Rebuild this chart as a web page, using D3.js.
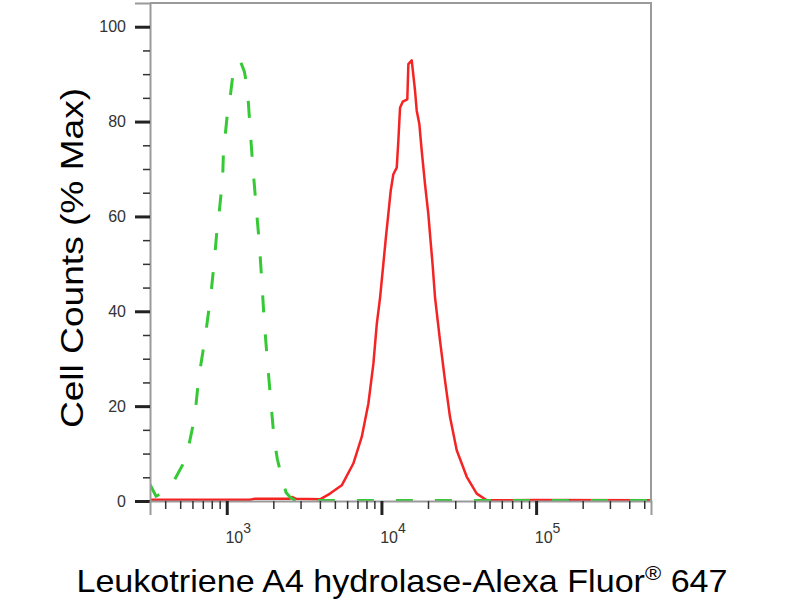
<!DOCTYPE html>
<html>
<head>
<meta charset="utf-8">
<script src="https://cdn.jsdelivr.net/npm/d3@7"></script>
<style>
  body { margin: 0; background: #fff; }
  text { font-family: Arial, "Liberation Sans", sans-serif; }
</style>
</head>
<body>
<div id="chart"></div>
<script>
// isotype control (green, dashed)
var greenX = [319, 349, 382, 450, 524, 565, 603, 630, 649, 672, 706, 735, 768, 792, 819, 840, 862, 892, 919, 942, 951, 975,
  1009, 1050, 1093, 1219, 1300, 1359, 1415, 1472, 1547, 1624, 1684, 1750, 1830, 1925, 2022, 2124, 2268, 2417, 2566, 2764,
  3200, 5000, 10000, 30000, 100000, 553000];
var greenY = [3.5, 1.0, 1.7, 3.9, 7.9, 11.3, 15.7, 19.7, 23.9, 27.7, 32.1, 35.9, 40.6, 43.9, 48.6, 52.4, 56.6, 60.6, 64.8, 68.6, 73.2, 76.8,
  81.6, 84.9, 89.6, 92.9, 90.5, 87.1, 78.7, 70.7, 62.3, 54.3, 46.5, 37.6, 29.6, 21.2, 13.2, 8.8, 5.0, 1.8, 0.8, 0.1,
  0.1, 0.1, 0.1, 0.1, 0.1, 0.1];

// Leukotriene A4 hydrolase stained (red)
var redX = [319, 1415, 1524, 2564, 2642, 2805, 4010, 4653, 5540, 6580, 7460, 8230, 8870, 9330, 9800, 10290, 10710, 11080, 11480,
  11940, 12560, 12860, 13190, 13730, 14700, 14930, 15700, 16490, 16910, 17580, 18220, 19130, 20100, 20770, 21400, 22210,
  23920, 25770, 27760, 30670, 35600, 41300, 47950, 100000, 553000];
var redY = [0.25, 0.25, 0.5, 0.5, 0.85, 0.45, 0.35, 1.56, 3.3, 7.9, 13.5, 20.5, 28.9, 37.3, 42.9, 50.0, 55.9, 60.5, 65.4,
  68.9, 70.3, 75.9, 82.9, 84.2, 84.7, 92.1, 92.9, 86.5, 82.3, 79.5, 73.8, 66.8, 60.5, 54.9, 50.0, 42.9,
  33.8, 25.4, 17.7, 10.7, 5.1, 1.56, 0.15, 0.2, 0.15];

var yTicks = [0, 20, 40, 60, 80, 100];
var xMajor = [1e3, 1e4, 1e5];
var xTitle = "Leukotriene A4 hydrolase-Alexa Fluor";
var yTitle = "Cell Counts (% Max)";

var width = 800, height = 600;
var pLeft = 150, pRight = 651, pTop = 3, pBottom = 501;

var svg = d3.select("#chart").append("svg")
  .attr("width", width)
  .attr("height", height);

var x = d3.scaleLog().domain([319, 553000]).range([pLeft, pRight]);
var y = d3.scaleLinear().domain([0, 105]).range([pBottom, pTop]);

// minor ticks: 2..9 of every decade inside the domain
var xMinor = [];
[100, 1000, 10000, 100000].forEach(function(dec) {
  for (var k = 2; k <= 9; k++) {
    var v = dec * k;
    if (v > x.domain()[0] && v < x.domain()[1]) xMinor.push(v);
  }
});
var yMinor = d3.range(0, 105, 5).filter(function(v) { return v % 20 != 0; });

svg.append("clipPath").attr("id", "clip")
  .append("rect").attr("x", pLeft).attr("y", pTop).attr("width", pRight - pLeft).attr("height", pBottom - pTop + 2);

// curves
var line = d3.line()
  .x(function(d) { return x(d[0]); })
  .y(function(d) { return y(d[1]); });

var plot = svg.append("g").attr("clip-path", "url(#clip)");

plot.append("path")
  .datum(d3.zip(redX, redY))
  .attr("d", line)
  .attr("fill", "none")
  .attr("stroke", "#f52424")
  .attr("stroke-width", 2.5)
  .attr("stroke-linejoin", "round");

plot.append("path")
  .datum(d3.zip(greenX, greenY))
  .attr("d", line)
  .attr("fill", "none")
  .attr("stroke", "#36c936")
  .attr("stroke-width", 3)
  .attr("stroke-dasharray", "17,22");

// frame (top + right)
svg.append("path")
  .attr("d", "M" + pLeft + "," + pTop + "H" + pRight + "V" + pBottom)
  .attr("fill", "none")
  .attr("stroke", "#9a9a9a")
  .attr("stroke-width", 2);

// y axis
var yAxis = svg.append("g")
  .attr("transform", "translate(" + pLeft + ",0)")
  .call(d3.axisLeft(y).tickValues(yTicks).tickSize(15).tickPadding(9).tickFormat(d3.format("d")));
svg.append("g")
  .attr("transform", "translate(" + pLeft + ",0)")
  .call(d3.axisLeft(y).tickValues(yMinor).tickSize(7).tickFormat(""))
  .call(function(g) { g.select(".domain").remove(); })
  .selectAll("line").attr("stroke", "#333").attr("stroke-width", 1.5);
yAxis.select(".domain").attr("stroke", "#9a9a9a").attr("stroke-width", 2);
yAxis.selectAll(".tick line").attr("stroke", "#222").attr("stroke-width", 3);
yAxis.selectAll(".tick text").attr("font-size", 16).attr("fill", "#333");

// x axis
var xAxis = svg.append("g")
  .attr("transform", "translate(0," + pBottom + ")")
  .call(d3.axisBottom(x).tickValues(xMajor).tickSize(14).tickFormat(""));
svg.append("g")
  .attr("transform", "translate(0," + pBottom + ")")
  .call(d3.axisBottom(x).tickValues(xMinor).tickSize(8).tickFormat(""))
  .call(function(g) { g.select(".domain").remove(); })
  .selectAll("line").attr("stroke", "#333").attr("stroke-width", 1.5);
xAxis.select(".domain").attr("stroke", "#9a9a9a").attr("stroke-width", 2);
xAxis.selectAll(".tick line").attr("stroke", "#222").attr("stroke-width", 3);
xAxis.selectAll(".tick text").remove();

var lab = xAxis.selectAll(".tick").append("text")
  .attr("x", 11).attr("y", 42)
  .attr("text-anchor", "middle")
  .attr("fill", "#333")
  .style("font-size", "16px");
lab.append("tspan").text("10");
lab.append("tspan")
  .attr("dy", -10)
  .style("font-size", "14px")
  .text(function(d) { return Math.round(Math.log10(d)); });

// titles
var xt = svg.append("text")
  .attr("text-anchor", "middle")
  .attr("font-size", 31)
  .attr("fill", "#000")
  .attr("transform", "translate(402,592) scale(1.1,1)");
xt.append("tspan").text(xTitle);
xt.append("tspan").attr("dy", -12).attr("font-size", 20).text("®");
xt.append("tspan").attr("dy", 12).text(" 647");

svg.append("text")
  .attr("transform", "translate(83,258) rotate(-90) scale(1.16,1)")
  .attr("text-anchor", "middle")
  .attr("font-size", 32)
  .attr("fill", "#000")
  .text(yTitle);
</script>
</body>
</html>
